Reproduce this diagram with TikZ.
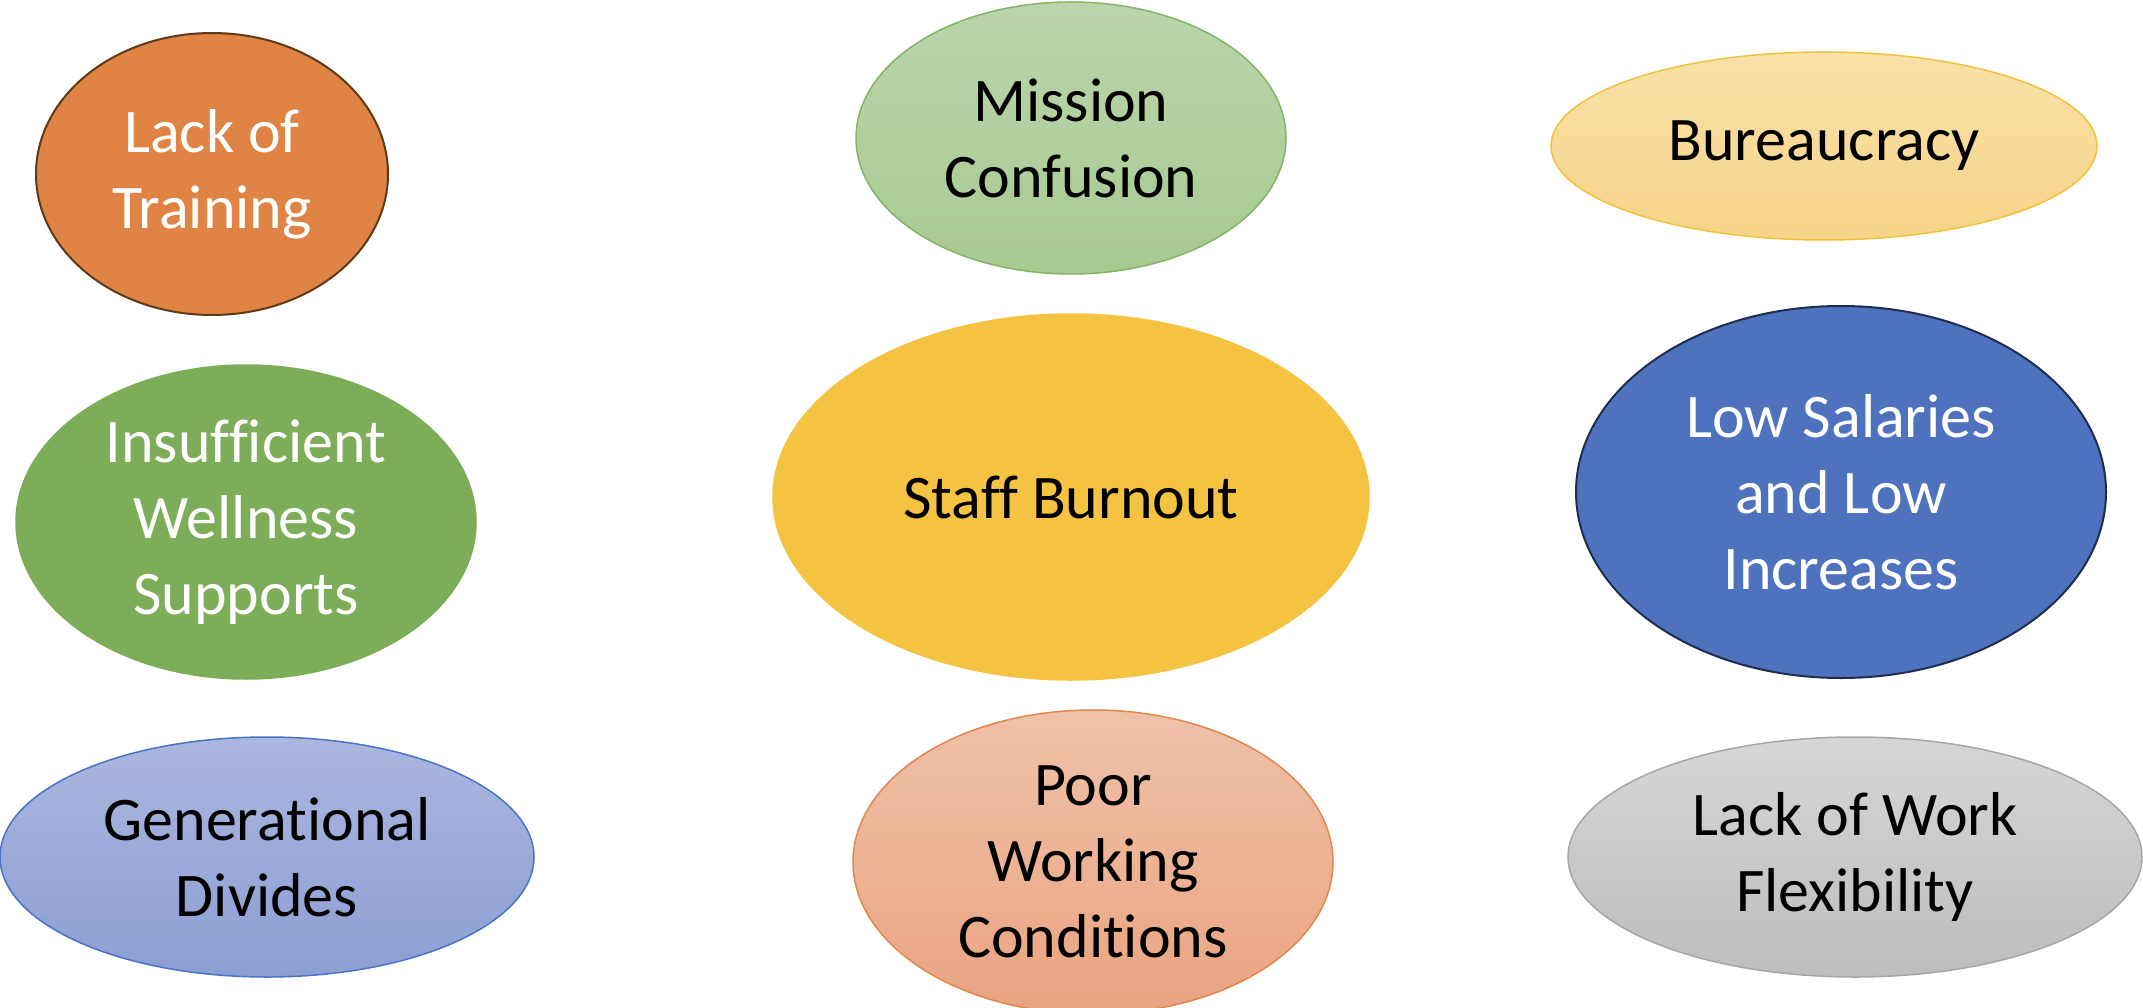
\documentclass[tikz,border=0pt]{standalone}
\usepackage{fontspec}
\setmainfont[Ligatures={NoCommon,NoContextual}]{Carlito}
\usetikzlibrary{shapes.geometric}

% fills and outlines
\definecolor{orangeFill}{HTML}{DF8445}
\definecolor{orangeEdge}{HTML}{5E3A17}
\definecolor{sageTop}{HTML}{BAD5AC}
\definecolor{sageBot}{HTML}{A7CA90}
\definecolor{sageEdge}{HTML}{86B466}
\definecolor{sandTop}{HTML}{F9E1A8}
\definecolor{sandBot}{HTML}{F6D488}
\definecolor{sandEdge}{HTML}{F2C23E}
\definecolor{leafFill}{HTML}{7DAD58}
\definecolor{goldFill}{HTML}{F5C342}
\definecolor{royalFill}{HTML}{4F72BE}
\definecolor{royalEdge}{HTML}{1F2D4E}
\definecolor{lilacTop}{HTML}{AAB7DF}
\definecolor{lilacBot}{HTML}{8C9ED3}
\definecolor{lilacEdge}{HTML}{4A74C6}
\definecolor{peachTop}{HTML}{EFC2A8}
\definecolor{peachBot}{HTML}{EAA381}
\definecolor{peachEdge}{HTML}{E2864F}
\definecolor{greyTop}{HTML}{D6D6D6}
\definecolor{greyBot}{HTML}{BDBDBD}
\definecolor{greyEdge}{HTML}{A6A6A6}

\begin{document}
\begin{tikzpicture}[x=1pt,y=-1pt,
  blob/.style={ellipse, inner sep=0pt, line width=1.5pt},
  lbl/.style={align=center, inner sep=0pt, font=\fontsize{62}{76}\selectfont},
]
\fill[white] (0,0) rectangle (2143,1008);
\useasboundingbox (0,0) rectangle (2143,1008);

% left column
\node[blob, fill=orangeFill, draw=orangeEdge, line width=2pt,
      minimum width=352pt, minimum height=282pt] (lt) at (212,174) {};
\node[lbl, white] (lt-t) at (lt) {Lack of\\Training};

\node[blob, fill=leafFill, draw=leafFill,
      minimum width=460pt, minimum height=314pt] (iw) at (246,522) {};
\node[lbl, white] (iw-t) at (iw) {Insufficient\\Wellness\\Supports};

\node[blob, top color=lilacTop, bottom color=lilacBot, draw=lilacEdge,
      minimum width=534pt, minimum height=240pt] (gd) at (267,857) {};
\node[lbl, black] (gd-t) at (gd) {Generational\\Divides};

% middle column
\node[blob, top color=sageTop, bottom color=sageBot, draw=sageEdge,
      minimum width=430pt, minimum height=272pt] (mc) at (1071,138) {};
\node[lbl, black] (mc-t) at (mc) {Mission\\Confusion};

\node[blob, fill=goldFill, draw=goldFill,
      minimum width=596pt, minimum height=366pt] (sb) at (1071,497) {};
\node[lbl, black] (sb-t) at (sb) {Staff Burnout};

\node[blob, top color=peachTop, bottom color=peachBot, draw=peachEdge,
      minimum width=480pt, minimum height=304pt] (pw) at (1093,862) {};
\node[lbl, black] (pw-t) at (pw) {Poor\\Working\\Conditions};

% right column
\node[blob, top color=sandTop, bottom color=sandBot, draw=sandEdge,
      minimum width=546pt, minimum height=188pt] (bu) at (1824,146) {};
\node[lbl, black] (bu-t) at (bu) {Bureaucracy};

\node[blob, fill=royalFill, draw=royalEdge, line width=2pt,
      minimum width=530pt, minimum height=372pt] (ls) at (1841,492) {};
\node[lbl, white] (ls-t) at (ls) {Low Salaries\\and Low\\Increases};

\node[blob, top color=greyTop, bottom color=greyBot, draw=greyEdge,
      minimum width=574pt, minimum height=240pt] (wf) at (1855,857) {};
\node[lbl, black] (wf-t) at (wf) {Lack of Work\\Flexibility};
\end{tikzpicture}
\end{document}
